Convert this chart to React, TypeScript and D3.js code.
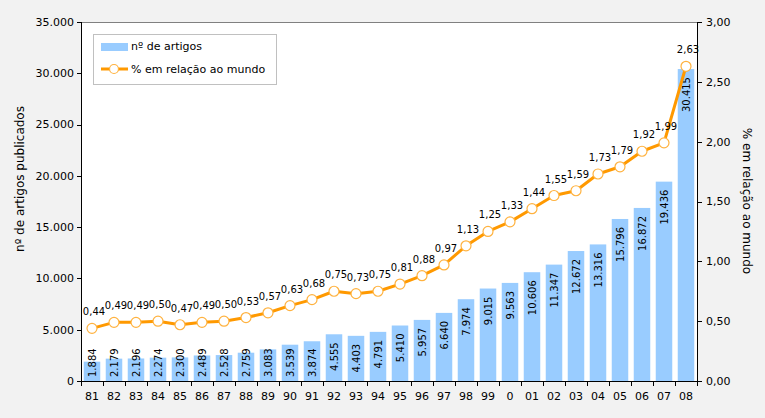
import React from "react";
import * as d3 from "d3";

const categories = ["81","82","83","84","85","86","87","88","89","90","91","92","93","94","95","96","97","98","99","0","01","02","03","04","05","06","07","08"];
const articles = [1884,2179,2196,2274,2300,2489,2528,2759,3083,3539,3874,4555,4403,4791,5410,5957,6640,7974,9015,9563,10606,11347,12672,13316,15796,16872,19436,30415];
const percent = [0.44,0.49,0.49,0.50,0.47,0.49,0.50,0.53,0.57,0.63,0.68,0.75,0.73,0.75,0.81,0.88,0.97,1.13,1.25,1.33,1.44,1.55,1.59,1.73,1.79,1.92,1.99,2.63];
const leftTicks = [0,5000,10000,15000,20000,25000,30000,35000];
const rightTicks = [0,0.5,1,1.5,2,2.5,3];

const W = 765, H = 418;
const L = 81, R = 697, T = 22, B = 381;
const FONT = "'DejaVu Sans', Verdana, sans-serif";
const BAR = "#99ccff";
const LINE = "#ff9900";

const fmtThousands = (v: number) => d3.format(",")(v).replace(/,/g, ".");
const fmtPct = (v: number) => v.toFixed(2).replace(".", ",");

function textLen(s: string) {
  let w = 0;
  for (const c of s) w += c === "." || c === "," ? 3.18 : 6.36;
  return w;
}

export default function App() {
  const x = d3.scaleBand<string>().domain(categories).range([L, R]).paddingInner(0.25).paddingOuter(0.125);
  const yL = d3.scaleLinear().domain([0, 35000]).range([B, T]);
  const yR = d3.scaleLinear().domain([0, 3]).range([B, T]);
  const cx = (c: string) => (x(c) as number) + x.bandwidth() / 2;
  const step = x.step();
  const line = d3.line<number>().x((_, i) => cx(categories[i])).y((d) => yR(d));

  return (
    <svg width={W} height={H} style={{ position: "absolute", left: 0, top: 0, fontFamily: FONT }}>
      <rect x={0} y={0} width={W} height={H} fill="#f2f2f2" />
      <rect x={L} y={T} width={R - L} height={B - T} fill="#ffffff" />
      <line x1={L} x2={R} y1={T + 0.5} y2={T + 0.5} stroke="#808080" />

      {/* bars */}
      {articles.map((v, i) => (
        <rect key={"b" + i} x={x(categories[i])} y={yL(v)} width={x.bandwidth()} height={B - yL(v)} fill={BAR} />
      ))}
      {/* bar labels */}
      {articles.map((v, i) => {
        const s = fmtThousands(v);
        const len = textLen(s);
        const bottom = Math.min(yL(v) + 8 + len, B - 4);
        const px = cx(categories[i]) + 4;
        return (
          <text key={"bl" + i} x={px} y={bottom} transform={`rotate(-90 ${px} ${bottom})`} fontSize={10} fill="#000">
            {s}
          </text>
        );
      })}

      {/* line */}
      <path d={line(percent) || ""} fill="none" stroke={LINE} strokeWidth={3} strokeLinejoin="round" />
      {percent.map((v, i) => (
        <circle key={"c" + i} cx={cx(categories[i])} cy={yR(v)} r={5} fill="#fff" stroke="#ffb23f" strokeWidth={1.2} />
      ))}
      {percent.map((v, i) => (
        <text key={"pl" + i} x={cx(categories[i]) + 2} y={yR(v) - 13} fontSize={10} textAnchor="middle" fill="#000">
          {fmtPct(v)}
        </text>
      ))}

      {/* x axis */}
      <line x1={L} x2={R} y1={B + 0.5} y2={B + 0.5} stroke="#000" />
      {d3.range(categories.length + 1).map((i) => (
        <line key={"xt" + i} x1={L + i * step + 0.5} x2={L + i * step + 0.5} y1={B} y2={B + 5} stroke="#000" />
      ))}
      {categories.map((c) => (
        <text key={"xl" + c} x={cx(c)} y={400} fontSize={11} textAnchor="middle" fill="#000">
          {c}
        </text>
      ))}

      {/* left axis */}
      <line x1={L + 0.5} x2={L + 0.5} y1={T} y2={B + 5} stroke="#000" />
      {leftTicks.map((t) => (
        <g key={"lt" + t}>
          <line x1={L - 4} x2={L} y1={Math.round(yL(t)) + 0.5} y2={Math.round(yL(t)) + 0.5} stroke="#000" />
          <text x={74} y={yL(t)} dy="0.35em" fontSize={11} textAnchor="end" fill="#000">
            {fmtThousands(t)}
          </text>
        </g>
      ))}

      {/* right axis */}
      <line x1={R + 0.5} x2={R + 0.5} y1={T} y2={B + 5} stroke="#000" />
      {rightTicks.map((t) => (
        <g key={"rt" + t}>
          <line x1={R} x2={R + 5} y1={Math.round(yR(t)) + 0.5} y2={Math.round(yR(t)) + 0.5} stroke="#000" />
          <text x={706} y={yR(t)} dy="0.35em" fontSize={11} textAnchor="start" fill="#000">
            {fmtPct(t)}
          </text>
        </g>
      ))}

      {/* axis titles */}
      <text x={24} y={179} transform="rotate(-90 24 179)" fontSize={12} textAnchor="middle" fill="#000">
        nº de artigos publicados
      </text>
      <text x={743} y={201} transform="rotate(90 743 201)" fontSize={12} textAnchor="middle" fill="#000">
        % em relação ao mundo
      </text>

      {/* legend */}
      <rect x={93.5} y={34.5} width={183} height={50} fill="#fff" stroke="#c0c0c0" />
      <rect x={101} y={43} width={27} height={8} fill={BAR} />
      <text x={131} y={50} fontSize={11} fill="#000">nº de artigos</text>
      <line x1={101} x2={128} y1={69} y2={69} stroke={LINE} strokeWidth={3} />
      <circle cx={114} cy={69} r={4.5} fill="#fff" stroke="#ffb23f" strokeWidth={1.2} />
      <text x={131} y={73} fontSize={11} fill="#000">% em relação ao mundo</text>
    </svg>
  );
}
